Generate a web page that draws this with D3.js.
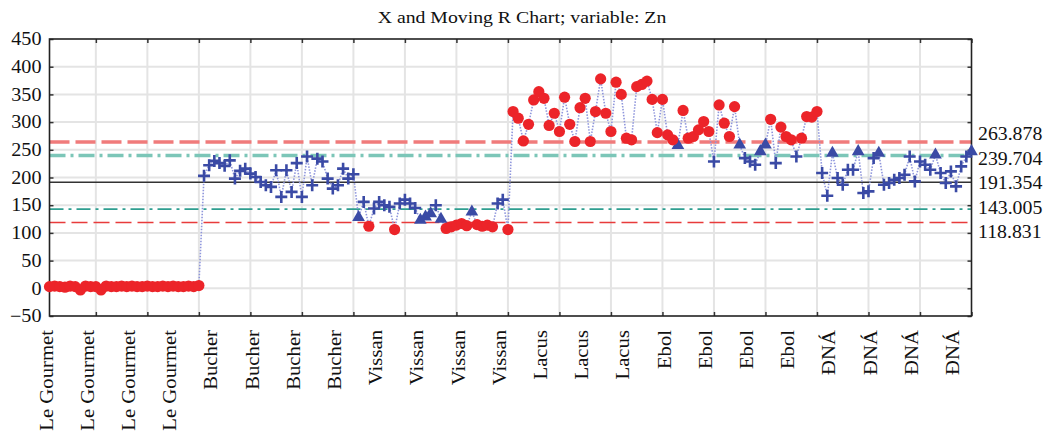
<!DOCTYPE html>
<html>
<head>
<meta charset="utf-8">
<script src="https://cdn.jsdelivr.net/npm/d3@7"></script>
<style>
  body { margin: 0; background: #fff; }
  text { font-family: "Liberation Serif", "DejaVu Serif", serif; fill: #111; }
</style>
</head>
<body>
<svg id="chart" width="1050" height="439"></svg>
<script>
// values per producer, 30 samples each
const leGourmet = [3, 4, 3, 2, 4, 3, -3, 4, 3, 3, -3, 4, 3, 3, 4, 3, 4, 3, 3, 4, 3, 3, 4, 3, 4, 3, 3, 4, 3, 5];
const bucher = [203, 222, 230, 226, 221, 231, 198, 212, 216, 207, 201, 192, 186, 183, 213, 165, 213, 174, 226, 165,
                238, 186, 234, 229, 198, 180, 186, 216, 198, 206];
const vissan = [128, 156, 112, 144, 156, 150, 147, 106, 153, 160, 153, 145, 123, 129, 135, 150, 125, 108, 111, 114,
                117, 113, 138, 115, 112, 114, 111, 153, 160, 106];
const lacus = [319, 307, 266, 296, 340, 355, 343, 294, 316, 283, 345, 296, 265, 326, 343, 265, 319, 378, 316, 283,
               372, 350, 271, 268, 364, 368, 374, 341, 281, 341];
const ebol = [277, 268, 258, 321, 271, 274, 286, 301, 283, 229, 331, 298, 274, 328, 259, 235, 229, 223, 247, 259,
              305, 226, 291, 274, 268, 238, 271, 310, 309, 319];
const dna = [208, 167, 244, 199, 187, 214, 214, 247, 172, 175, 235, 244, 187, 190, 196, 199, 205, 238, 193, 229,
             223, 214, 241, 208, 190, 211, 184, 220, 238, 247];

const xTickLabels = ["Le Gourmet", "Le Gourmet", "Le Gourmet", "Le Gourmet",
                     "Bucher", "Bucher", "Bucher", "Bucher",
                     "Vissan", "Vissan", "Vissan", "Vissan",
                     "Lacus", "Lacus", "Lacus",
                     "Ebol", "Ebol", "Ebol", "Ebol",
                     "ĐNÁ", "ĐNÁ", "ĐNÁ", "ĐNÁ"];
const labelStep = 8;   // a case name every 8th sample

// control limits: UCL, +2 sigma, centre, -2 sigma, LCL
const limits = [263.878, 239.704, 191.354, 143.005, 118.831];

const yTicks = d3.range(-50, 451, 50);
const xTicks = d3.range(10, 181, 10);

const values = [].concat(leGourmet, bucher, vissan, lacus, ebol, dna);
const data = values.map((v, i) => ({ n: i + 1, v: v }));

const svg = d3.select("#chart");
const plotL = 49.5, plotR = 971.5, plotT = 39, plotB = 316;

let x = d3.scaleLinear().domain([1, values.length]).range([plotL, plotR]);
let y = d3.scaleLinear().domain([-50, 450]).range([plotB, plotT]);

// title
svg.append("text")
   .attr("x", 522).attr("y", 23)
   .attr("text-anchor", "middle")
   .style("font-size", "17.5px")
   .attr("transform", "translate(522,0) scale(1.13,1) translate(-522,0)")
   .text("X and Moving R Chart; variable: Zn");

// grid
svg.append("g").selectAll("line")
   .data(yTicks.slice(1, -1))
   .enter().append("line")
   .attr("x1", plotL).attr("x2", plotR)
   .attr("y1", d => y(d)).attr("y2", d => y(d))
   .attr("stroke", "#e4e4e4").attr("stroke-width", 2);
svg.append("g").selectAll("line")
   .data(xTicks.slice(0, -1))
   .enter().append("line")
   .attr("x1", d => x(d)).attr("x2", d => x(d))
   .attr("y1", plotT).attr("y2", plotB)
   .attr("stroke", "#e4e4e4").attr("stroke-width", 2);

// control lines
const limitStyle = [
    { c: "#f07b7b", w: 3.5, dash: "20,6" },
    { c: "#7cc6b8", w: 3.5, dash: "16,5,3,5" },
    { c: "#333333", w: 1.6, dash: null },
    { c: "#2f9e90", w: 1.6, dash: "14,5,3,5" },
    { c: "#e83b3b", w: 1.6, dash: "16,6" }
];
svg.append("g").selectAll("line")
   .data(limits)
   .enter().append("line")
   .attr("x1", plotL).attr("x2", plotR)
   .attr("y1", d => y(d)).attr("y2", d => y(d))
   .attr("stroke", (d, i) => limitStyle[i].c)
   .attr("stroke-width", (d, i) => limitStyle[i].w)
   .attr("stroke-dasharray", (d, i) => limitStyle[i].dash);

// axes (ticks pointing inward)
svg.append("g").attr("class", "yleft").attr("transform", "translate(" + plotL + ",0)")
   .call(d3.axisLeft(y).tickValues(yTicks).tickSize(-4).tickPadding(9))
   .call(g => g.select(".domain").remove());
svg.selectAll(".yleft text")
   .style("font-size", "18px")
   .attr("x", -8 / 1.12)
   .attr("transform", "scale(1.12,1)");
svg.append("g").attr("transform", "translate(" + plotR + ",0)")
   .call(d3.axisRight(y).tickValues(yTicks).tickSize(-4).tickFormat(""))
   .call(g => g.select(".domain").remove());
svg.append("g").attr("transform", "translate(0," + plotB + ")")
   .call(d3.axisBottom(x).tickValues(xTicks).tickSize(-4).tickFormat(""))
   .call(g => g.select(".domain").remove());
svg.append("g").attr("transform", "translate(0," + plotT + ")")
   .call(d3.axisTop(x).tickValues(xTicks).tickSize(-4).tickFormat(""))
   .call(g => g.select(".domain").remove());
svg.selectAll(".tick line").attr("stroke", "#333").attr("stroke-width", 1.5);
svg.selectAll(".tick text").attr("fill", "#111").attr("font-family", null);

// frame
svg.append("rect")
   .attr("x", plotL).attr("y", plotT)
   .attr("width", plotR - plotL).attr("height", plotB - plotT)
   .attr("fill", "none").attr("stroke", "#222").attr("stroke-width", 1.6);

// limit labels on the right, spread evenly around the centre line
const labelGap = 24.5;
svg.append("g").selectAll("text")
   .data(limits)
   .enter().append("text")
   .attr("x", 978 / 1.1)
   .attr("y", (d, i) => y(limits[2]) + 1 + (i - 2) * labelGap + 6)
   .attr("transform", "scale(1.1,1)")
   .style("font-size", "18px")
   .text(d => d.toFixed(3));

// case labels
svg.append("g").selectAll("text")
   .data(xTickLabels)
   .enter().append("text")
   .attr("transform", (d, i) => "translate(" + (x(1 + i * labelStep) + 3) + "," + 330 + ") rotate(-90) scale(1.12,1.05)")
   .attr("text-anchor", "end")
   .style("font-size", "18.5px")
   .text(d => d);

// connecting dotted line
svg.append("path")
   .datum(data)
   .attr("fill", "none")
   .attr("stroke", "#8f96dc")
   .attr("stroke-width", 1.6)
   .attr("stroke-dasharray", "1.5,1.5")
   .attr("d", d3.line().x(d => x(d.n)).y(d => y(d.v)));

// markers: + inside 2 sigma, triangle between 2 and 3 sigma, red dot beyond
const kind = v => (v > limits[0] || v < limits[4]) ? "out" : (v > limits[1] || v < limits[3]) ? "warn" : "ok";

svg.append("g").selectAll("path")
   .data(data.filter(d => kind(d.v) === "ok"))
   .enter().append("path")
   .attr("transform", d => "translate(" + x(d.n) + "," + y(d.v) + ")")
   .attr("d", "M-6,0H6M0,-6V6")
   .attr("stroke", "#3a4aa5").attr("stroke-width", 2.6);

svg.append("g").selectAll("path")
   .data(data.filter(d => kind(d.v) === "warn"))
   .enter().append("path")
   .attr("transform", d => "translate(" + x(d.n) + "," + y(d.v) + ")")
   .attr("d", d3.symbol().type(d3.symbolTriangle).size(70))
   .attr("fill", "#3a4aa5");

svg.append("g").selectAll("circle")
   .data(data.filter(d => kind(d.v) === "out"))
   .enter().append("circle")
   .attr("cx", d => x(d.n)).attr("cy", d => y(d.v))
   .attr("r", 5.6)
   .attr("fill", "#ec2429");
</script>
</body>
</html>
